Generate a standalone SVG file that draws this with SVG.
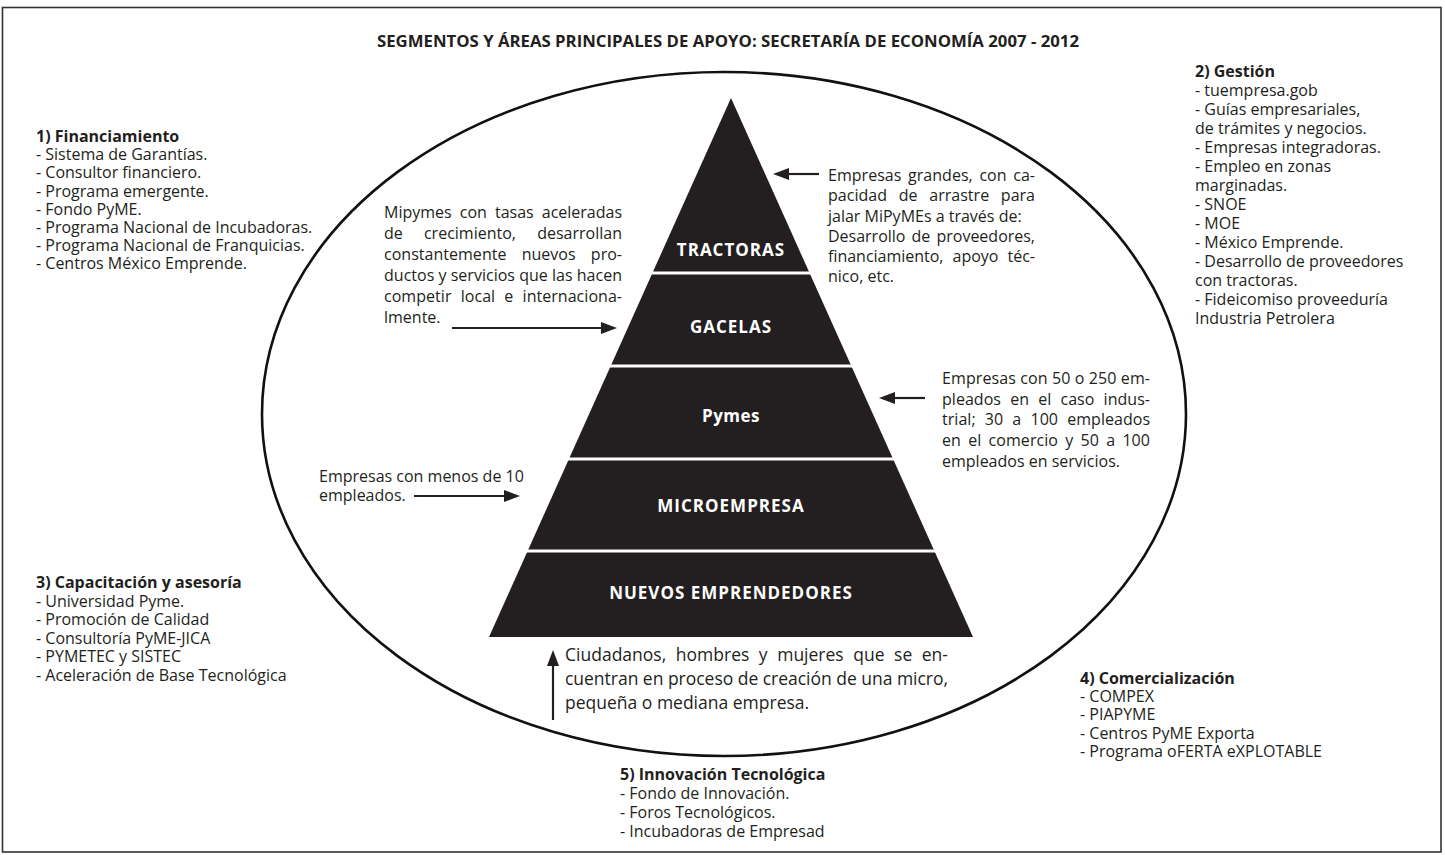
<svg xmlns="http://www.w3.org/2000/svg" width="1445" height="855" viewBox="0 0 1445 855">
<style>
.t{font-family:"Open Sans","Liberation Sans",sans-serif;font-size:16px;fill:#231f20}
.b{font-weight:bold}
.lbl{font-family:"Open Sans","Liberation Sans",sans-serif;font-size:17px;font-weight:bold;fill:#ffffff;text-anchor:middle;letter-spacing:1px}
.p18{font-size:17.5px}
.arr{stroke:#231f20;stroke-width:2.2;fill:none}
</style>
<defs>
<marker id="ah" viewBox="0 0 16 12" refX="2" refY="6" markerWidth="16" markerHeight="12" markerUnits="userSpaceOnUse" orient="auto">
<path d="M0,0 L16,6 L0,12 z" fill="#231f20"/>
</marker>
</defs>
<rect x="2.5" y="7.5" width="1438.5" height="844.5" fill="#ffffff" stroke="#333333" stroke-width="1.6"/>
<text id="title" class="t b" x="728" y="47" text-anchor="middle" textLength="702" lengthAdjust="spacingAndGlyphs">SEGMENTOS Y ÁREAS PRINCIPALES DE APOYO: SECRETARÍA DE ECONOMÍA 2007 - 2012</text>
<ellipse id="ellipse" cx="724" cy="414" rx="462" ry="342" fill="none" stroke="#111111" stroke-width="2.6"/>
<g id="pyramid">
<polygon points="731,98 973,637 489,637" fill="#231f20"/>
<g stroke="#ffffff" stroke-width="3">
<line x1="640" y1="273" x2="822" y2="273"/>
<line x1="598" y1="366" x2="864" y2="366"/>
<line x1="556" y1="459" x2="906" y2="459"/>
<line x1="514" y1="551" x2="948" y2="551"/>
</g>
</g>
<g id="n-tractoras"><text class="lbl" x="731" y="256">TRACTORAS</text></g>
<g id="n-gacelas"><text class="lbl" x="731" y="333">GACELAS</text></g>
<g id="n-pymes"><text class="lbl" x="731" y="422" style="letter-spacing:0.5px">Pymes</text></g>
<g id="n-micro"><text class="lbl" x="731" y="512">MICROEMPRESA</text></g>
<g id="n-nuevos"><text class="lbl" x="731" y="599">NUEVOS EMPRENDEDORES</text></g>
<g id="d-gacelas" class="t">
<text x="384" y="218" textLength="238" lengthAdjust="spacing" word-spacing="4">Mipymes con tasas aceleradas</text>
<text x="384" y="239" textLength="238" lengthAdjust="spacing" word-spacing="17">de crecimiento, desarrollan</text>
<text x="384" y="260" textLength="238" lengthAdjust="spacing" word-spacing="11">constantemente nuevos pro-</text>
<text x="384" y="281" textLength="238" lengthAdjust="spacing">ductos y servicios que las hacen</text>
<text x="384" y="302" textLength="238" lengthAdjust="spacing" word-spacing="5">competir local e internaciona-</text>
<text x="384" y="323">lmente.</text>
</g>
<g id="d-tractoras" class="t">
<text x="828" y="181" textLength="207" lengthAdjust="spacing" word-spacing="2.5">Empresas grandes, con ca-</text>
<text x="828" y="201" textLength="207" lengthAdjust="spacing" word-spacing="7.5">pacidad de arrastre para</text>
<text x="828" y="222">jalar MiPyMEs a través de:</text>
<text x="828" y="242" textLength="207" lengthAdjust="spacing" word-spacing="2">Desarrollo de proveedores,</text>
<text x="828" y="262" textLength="207" lengthAdjust="spacing" word-spacing="5">financiamiento, apoyo téc-</text>
<text x="828" y="282">nico, etc.</text>
</g>
<g id="d-pymes" class="t">
<text x="942" y="384" textLength="208" lengthAdjust="spacing">Empresas con 50 o 250 em-</text>
<text x="942" y="405" textLength="208" lengthAdjust="spacing" word-spacing="5">pleados en el caso indus-</text>
<text x="942" y="425" textLength="208" lengthAdjust="spacing" word-spacing="5">trial; 30 a 100 empleados</text>
<text x="942" y="446" textLength="208" lengthAdjust="spacing" word-spacing="3">en el comercio y 50 a 100</text>
<text x="942" y="467">empleados en servicios.</text>
</g>
<g id="d-micro" class="t">
<text x="319" y="482">Empresas con menos de 10</text>
<text x="319" y="501">empleados.</text>
</g>
<g id="d-nuevos" class="t p18">
<text x="565" y="661" textLength="383" lengthAdjust="spacing" word-spacing="5">Ciudadanos, hombres y mujeres que se en-</text>
<text x="565" y="685" textLength="383" lengthAdjust="spacing">cuentran en proceso de creación de una micro,</text>
<text x="565" y="709">pequeña o mediana empresa.</text>
</g>
<g id="connectors">
<line class="arr" x1="452" y1="328" x2="603" y2="328" marker-end="url(#ah)"/>
<line class="arr" x1="414" y1="496" x2="506" y2="496" marker-end="url(#ah)"/>
<line class="arr" x1="819" y1="174" x2="787" y2="174" marker-end="url(#ah)"/>
<line class="arr" x1="925" y1="398" x2="893" y2="398" marker-end="url(#ah)"/>
<line class="arr" x1="553" y1="720" x2="553" y2="664" marker-end="url(#ah)"/>
</g>
<g id="b-financiamiento" class="t">
<text class="b" x="36" y="142">1) Financiamiento</text>
<text x="36" y="160">- Sistema de Garantías.</text>
<text x="36" y="178">- Consultor financiero.</text>
<text x="36" y="197">- Programa emergente.</text>
<text x="36" y="215">- Fondo PyME.</text>
<text x="36" y="233">- Programa Nacional de Incubadoras.</text>
<text x="36" y="251">- Programa Nacional de Franquicias.</text>
<text x="36" y="269">- Centros México Emprende.</text>
</g>
<g id="b-gestion" class="t">
<text class="b" x="1195" y="77">2) Gestión</text>
<text x="1195" y="96">- tuempresa.gob</text>
<text x="1195" y="115">- Guías empresariales,</text>
<text x="1195" y="134">de trámites y negocios.</text>
<text x="1195" y="153">- Empresas integradoras.</text>
<text x="1195" y="172">- Empleo en zonas</text>
<text x="1195" y="191">marginadas.</text>
<text x="1195" y="210">- SNOE</text>
<text x="1195" y="229">- MOE</text>
<text x="1195" y="248">- México Emprende.</text>
<text x="1195" y="267">- Desarrollo de proveedores</text>
<text x="1195" y="286">con tractoras.</text>
<text x="1195" y="305">- Fideicomiso proveeduría</text>
<text x="1195" y="324">Industria Petrolera</text>
</g>
<g id="b-capacitacion" class="t">
<text class="b" x="36" y="588">3) Capacitación y asesoría</text>
<text x="36" y="607">- Universidad Pyme.</text>
<text x="36" y="625">- Promoción de Calidad</text>
<text x="36" y="644">- Consultoría PyME-JICA</text>
<text x="36" y="662">- PYMETEC y SISTEC</text>
<text x="36" y="681">- Aceleración de Base Tecnológica</text>
</g>
<g id="b-comercializacion" class="t">
<text class="b" x="1080" y="684">4) Comercialización</text>
<text x="1080" y="702">- COMPEX</text>
<text x="1080" y="720">- PIAPYME</text>
<text x="1080" y="739">- Centros PyME Exporta</text>
<text x="1080" y="757">- Programa oFERTA eXPLOTABLE</text>
</g>
<g id="b-innovacion" class="t">
<text class="b" x="620" y="780">5) Innovación Tecnológica</text>
<text x="620" y="799">- Fondo de Innovación.</text>
<text x="620" y="818">- Foros Tecnológicos.</text>
<text x="620" y="837">- Incubadoras de Empresad</text>
</g>
</svg>
